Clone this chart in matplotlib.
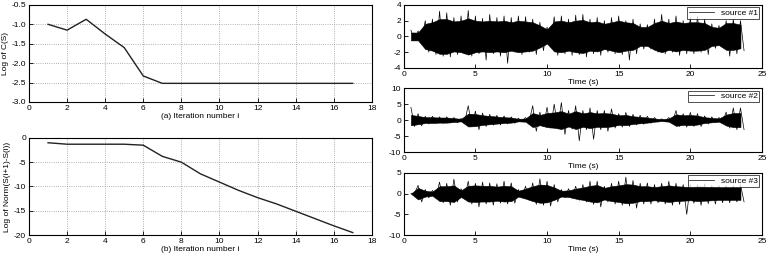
import matplotlib
matplotlib.use('Agg')
import matplotlib.pyplot as plt
import numpy as np

plt.rcParams['font.family'] = ['Liberation Sans', 'DejaVu Sans']
plt.rcParams['font.size'] = 6
plt.rcParams['axes.unicode_minus'] = False

# left panels: convergence curves
iters = list(range(1, 18))
log_cost = [-1.0, -1.15, -0.87, -1.25, -1.6, -2.33, -2.52, -2.52, -2.52,
            -2.52, -2.52, -2.52, -2.52, -2.52, -2.52, -2.52, -2.52]
log_norm = [-1.0, -1.3, -1.3, -1.3, -1.3, -1.5, -3.8, -5.0, -7.4, -9.1,
            -10.8, -12.3, -13.6, -15.1, -16.6, -18.1, -19.5]

# right panels: signals read every 0.5 s
# hi / lo = spike peaks, core = half-width of the dense part
t = [0.5 + 0.5 * k for k in range(47)]
s1_hi = [0.8, 0.7, 2.0, 2.2, 3.2, 3.0, 2.4, 2.6, 3.3, 2.6, 2.3, 2.8, 2.4, 2.6,
         2.4, 2.6, 2.5, 2.2, 1.8, 1.2, 2.5, 2.6, 2.2, 2.7, 2.8, 2.2, 2.4, 2.0,
         2.4, 2.6, 2.0, 2.2, 1.6, 1.5, 2.2, 2.8, 2.2, 2.6, 2.0, 2.4, 2.6, 2.2,
         1.6, 1.4, 2.0, 2.2, 2.0]
s1_lo = [-0.5, -0.6, -2.0, -2.3, -2.5, -2.6, -2.3, -2.2, -2.5, -2.2, -3.0, -2.2,
         -2.5, -3.4, -2.0, -2.3, -2.0, -2.3, -1.8, -1.2, -2.4, -2.2, -2.4, -2.3,
         -2.6, -2.2, -2.4, -2.0, -2.2, -2.3, -3.0, -2.2, -1.6, -1.6, -2.0, -2.2,
         -2.0, -2.4, -2.2, -2.2, -2.0, -2.3, -1.5, -1.4, -2.5, -2.2, -1.8]
s1_core = [0.5, 0.5, 1.6, 1.8, 2.2, 2.2, 1.9, 2.0, 2.3, 2.0, 1.9, 2.0, 1.9, 2.0,
           1.8, 2.0, 1.9, 1.8, 1.4, 0.9, 1.9, 2.0, 1.8, 2.0, 2.1, 1.8, 1.9, 1.6,
           1.8, 2.0, 1.8, 1.7, 1.2, 1.2, 1.7, 2.0, 1.7, 1.9, 1.7, 1.8, 1.8, 1.7,
           1.2, 1.1, 1.7, 1.7, 1.5]
s2_hi = [4.0, 2.0, 1.2, 1.2, 1.0, 1.0, 0.8, 0.5, 4.5, 2.8, 2.2, 1.8, 1.5, 1.3,
         1.0, 0.6, 0.8, 4.5, 2.5, 4.0, 5.0, 5.5, 3.0, 4.5, 3.0, 3.8, 3.0, 3.0,
         3.5, 2.0, 2.4, 1.8, 1.5, 1.2, 0.8, 0.4, 0.8, 3.0, 2.0, 2.4, 2.0, 1.3,
         1.0, 0.8, 2.5, 3.8, 3.8]
s2_lo = [-2.0, -1.8, -1.2, -1.0, -1.0, -0.9, -0.8, -0.5, -2.0, -3.0, -2.0, -1.6,
         -1.5, -1.2, -1.0, -0.5, -0.6, -3.5, -2.0, -2.5, -2.5, -4.5, -2.8, -6.5,
         -3.0, -6.0, -3.0, -3.5, -2.5, -2.2, -2.0, -1.5, -1.3, -1.0, -0.6, -0.4,
         -0.6, -2.0, -2.2, -2.0, -2.0, -1.2, -0.8, -0.6, -2.5, -3.0, -3.0]
s2_core = [1.6, 1.3, 0.9, 0.9, 0.8, 0.8, 0.6, 0.4, 2.0, 1.9, 1.5, 1.3, 1.1, 0.9,
           0.8, 0.4, 0.5, 2.2, 1.6, 2.2, 2.4, 2.8, 2.0, 2.8, 2.1, 2.5, 2.1, 2.2,
           2.0, 1.5, 1.6, 1.2, 1.0, 0.8, 0.5, 0.3, 0.5, 1.8, 1.5, 1.6, 1.4, 0.9,
           0.7, 0.5, 1.7, 2.2, 2.2]
s3_hi = [0.0, 2.0, 1.0, 0.8, 2.8, 2.5, 3.5, 1.2, 3.0, 2.5, 2.8, 2.6, 2.4, 3.0,
         2.6, 1.0, 1.8, 2.6, 3.6, 3.0, 2.2, 1.0, 1.2, 1.8, 2.2, 3.0, 3.0, 1.8,
         2.5, 3.0, 4.0, 3.2, 2.5, 2.6, 2.2, 2.5, 3.0, 2.5, 2.2, 2.2, 2.2, 2.4,
         2.0, 2.0, 2.0, 2.0, 2.2]
s3_lo = [0.0, -2.0, -1.0, -0.8, -2.2, -2.8, -2.0, -1.0, -2.5, -3.2, -2.5, -2.8,
         -2.3, -2.5, -2.3, -1.0, -1.5, -2.6, -2.8, -3.0, -2.0, -1.0, -1.0, -1.6,
         -2.0, -2.6, -3.2, -2.0, -2.5, -2.8, -3.0, -3.5, -2.5, -2.5, -2.2, -2.5,
         -2.8, -2.6, -5.0, -2.3, -2.8, -2.4, -2.5, -2.2, -2.2, -2.0, -2.0]
s3_core = [0.0, 1.4, 0.7, 0.5, 1.8, 1.8, 2.0, 0.8, 1.9, 2.0, 1.9, 1.9, 1.7, 1.9,
           1.8, 0.7, 1.2, 1.8, 2.2, 2.1, 1.5, 0.7, 0.8, 1.2, 1.5, 1.9, 2.1, 1.4,
           1.8, 2.0, 2.3, 2.2, 1.8, 1.8, 1.6, 1.8, 2.0, 1.8, 1.7, 1.6, 1.8, 1.7,
           1.6, 1.5, 1.5, 1.5, 1.5]


def style(ax):
    ax.tick_params(direction='in', length=3, width=0.6, pad=2)
    for sp in ax.spines.values():
        sp.set_linewidth(0.8)


fig = plt.figure(figsize=(7.72, 2.72), dpi=100)

ax1 = fig.add_axes([0.0376, 0.625, 0.444, 0.357])
ax1.plot(iters, log_cost, color='#222222', lw=1.0)
ax1.set_xlim(0, 18)
ax1.set_ylim(-3, -0.5)
ax1.set_xticks(range(0, 19, 2))
ax1.set_yticks([-3, -2.5, -2, -1.5, -1, -0.5])
ax1.grid(True, ls=':', color='#999999', lw=0.6)
ax1.set_xlabel('(a) Iteration number i', labelpad=1)
ax1.set_ylabel('Log of C(S)', labelpad=2)
style(ax1)

ax2 = fig.add_axes([0.0376, 0.136, 0.444, 0.357])
ax2.plot(iters, log_norm, color='#222222', lw=1.0)
ax2.set_xlim(0, 18)
ax2.set_ylim(-20, 0)
ax2.set_xticks(range(0, 19, 2))
ax2.set_yticks([-20, -15, -10, -5, 0])
ax2.grid(True, ls=':', color='#999999', lw=0.6)
ax2.set_xlabel('(b) Iteration number i', labelpad=1)
ax2.set_ylabel('Log of Norm(S(i+1)-S(i))', labelpad=2)
style(ax2)

right = [
    ([0.523, 0.75, 0.464, 0.232], s1_hi, s1_lo, s1_core, (-4, 4), [-4, -2, 0, 2, 4], 'source #1'),
    ([0.523, 0.441, 0.464, 0.235], s2_hi, s2_lo, s2_core, (-10, 10), [-10, -5, 0, 5, 10], 'source #2'),
    ([0.523, 0.136, 0.464, 0.228], s3_hi, s3_lo, s3_core, (-10, 5), [-10, -5, 0, 5], 'source #3'),
]
for pos, hi, lo, core, ylim, yt, name in right:
    ax = fig.add_axes(pos)
    # dense part
    ax.fill_between(t, [-c for c in core], core, color='black', lw=0.4)
    # spikes: alternate between upper and lower peaks
    zx, zy = [], []
    for tk, h, l in zip(t, hi, lo):
        zx += [tk, tk + 0.25]
        zy += [h, l]
    ax.plot(zx, zy, color='black', lw=0.5, label=name)
    ax.set_xlim(0, 25)
    ax.set_ylim(*ylim)
    ax.set_xticks(range(0, 26, 5))
    ax.set_yticks(yt)
    ax.set_xlabel('Time (s)', labelpad=1)
    leg = ax.legend(loc='upper right', fontsize=6, fancybox=False,
                    handlelength=3, borderpad=0.2, borderaxespad=0.3)
    leg.get_frame().set_edgecolor('black')
    leg.get_frame().set_linewidth(0.6)
    style(ax)

fig.savefig('out.png', dpi=100)
